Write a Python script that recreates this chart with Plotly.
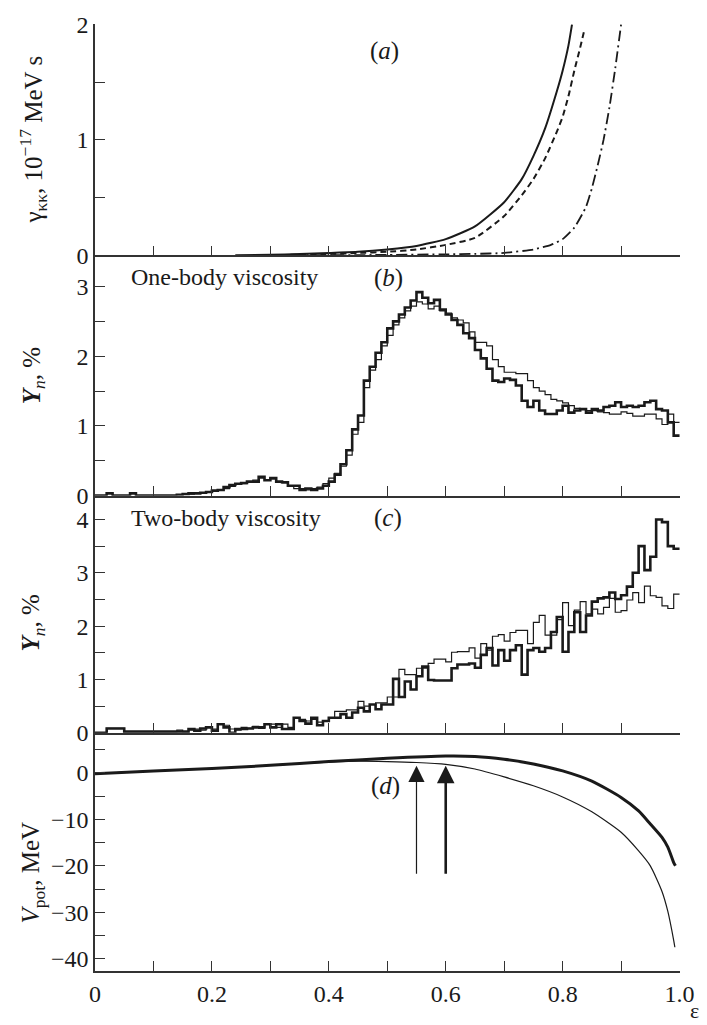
import plotly.graph_objects as go

# ---------------- data ----------------
# panel (a): friction coefficient curves
a_solid_x = [0.24, 0.30, 0.35, 0.40, 0.45, 0.50, 0.55, 0.60, 0.65, 0.70, 0.73, 0.75, 0.77, 0.79, 0.80, 0.81, 0.816]
a_solid_y = [0.0, 0.005, 0.01, 0.02, 0.03, 0.05, 0.08, 0.14, 0.25, 0.46, 0.66, 0.86, 1.1, 1.42, 1.6, 1.82, 2.0]
a_dash_x = [0.30, 0.35, 0.40, 0.45, 0.50, 0.55, 0.60, 0.65, 0.70, 0.73, 0.75, 0.77, 0.79, 0.80, 0.81, 0.82, 0.83, 0.837]
a_dash_y = [0.0, 0.005, 0.01, 0.02, 0.03, 0.05, 0.09, 0.15, 0.34, 0.52, 0.66, 0.84, 1.07, 1.2, 1.38, 1.6, 1.8, 1.95]
a_dd_x = [0.30, 0.40, 0.50, 0.60, 0.65, 0.70, 0.75, 0.78, 0.80, 0.82, 0.84, 0.85, 0.86, 0.87, 0.88, 0.89, 0.90]
a_dd_y = [0.0, 0.0, 0.003, 0.008, 0.012, 0.02, 0.05, 0.09, 0.14, 0.24, 0.42, 0.58, 0.78, 1.0, 1.28, 1.62, 2.0]

# histogram bin edges (epsilon)
bin_edges = [round(i * 0.01, 2) for i in range(101)]

# panel (b): one-body viscosity yields (%), thick and thin histograms
b_thick = [0, 0, 0.03, 0, 0, 0, 0.03, 0, 0, 0,
           0, 0, 0, 0, 0.01, 0.02, 0.03, 0.03, 0.04, 0.05,
           0.07, 0.08, 0.12, 0.15, 0.17, 0.18, 0.2, 0.2, 0.27, 0.22,
           0.25, 0.2, 0.19, 0.14, 0.14, 0.08, 0.1, 0.08, 0.1, 0.14,
           0.2, 0.3, 0.45, 0.65, 0.95, 1.15, 1.65, 1.85, 2.05, 2.2,
           2.4, 2.5, 2.6, 2.7, 2.8, 2.92, 2.84, 2.76, 2.81, 2.67,
           2.6, 2.52, 2.45, 2.33, 2.26, 2.09, 1.97, 1.82, 1.65, 1.63,
           1.68, 1.66, 1.58, 1.36, 1.27, 1.36, 1.22, 1.17, 1.17, 1.22,
           1.29, 1.19, 1.22, 1.24, 1.19, 1.24, 1.22, 1.27, 1.29, 1.34,
           1.27, 1.29, 1.27, 1.29, 1.34, 1.36, 1.24, 1.22, 1.05, 0.86]
b_thin = [0, 0, 0.03, 0, 0, 0, 0.03, 0, 0, 0,
          0, 0, 0, 0, 0.01, 0.02, 0.02, 0.03, 0.04, 0.05,
          0.06, 0.08, 0.1, 0.13, 0.17, 0.17, 0.19, 0.22, 0.25, 0.22,
          0.24, 0.2, 0.18, 0.13, 0.1, 0.1, 0.08, 0.1, 0.12, 0.17,
          0.25, 0.32, 0.42, 0.58, 0.88, 1.05, 1.55, 1.8, 1.95, 2.15,
          2.3, 2.45, 2.55, 2.65, 2.72, 2.78, 2.75, 2.68, 2.72, 2.65,
          2.62, 2.55, 2.52, 2.48, 2.35, 2.2, 2.2, 2.15, 1.95, 1.85,
          1.77, 1.77, 1.75, 1.75, 1.65, 1.55, 1.5, 1.45, 1.38, 1.36,
          1.33, 1.29, 1.25, 1.24, 1.22, 1.22, 1.2, 1.19, 1.17, 1.17,
          1.2, 1.18, 1.14, 1.14, 1.17, 1.17, 1.1, 1.02, 1.17, 1.05]

# panel (c): two-body viscosity yields (%)
c_thick = [0, 0, 0.08, 0.08, 0.08, 0.02, 0.02, 0.02, 0.02, 0.02,
           0.02, 0.02, 0.02, 0.02, 0.02, 0.02, 0.07, 0.04, 0.08, 0.1,
           0.04, 0.16, 0.1, 0.0, 0.07, 0.07, 0.08, 0.1, 0.1, 0.16,
           0.1, 0.16, 0.07, 0.07, 0.28, 0.22, 0.17, 0.28, 0.14, 0.22,
           0.28, 0.28, 0.35, 0.28, 0.38, 0.47, 0.4, 0.53, 0.44, 0.53,
           0.53, 1.01, 0.67, 0.96, 0.81, 1.06, 1.24, 0.99, 0.98, 0.98,
           0.98, 1.21, 1.28, 1.28, 1.3, 1.22, 1.46, 1.59, 1.26, 1.55,
           1.35, 1.55, 1.64, 1.09, 1.55, 1.59, 1.52, 1.59, 1.89, 2.17,
           1.52, 1.89, 2.26, 1.89, 2.2, 2.46, 2.52, 2.54, 2.63, 2.51,
           2.58, 2.74, 3.0, 3.5, 3.05, 3.3, 4.0, 3.95, 3.5, 3.45]
c_thin = [0, 0, 0.08, 0.08, 0.08, 0.02, 0.02, 0.02, 0.02, 0.02,
          0.02, 0.02, 0.02, 0.02, 0.05, 0.02, 0.05, 0.07, 0.05, 0.1,
          0.07, 0.16, 0.14, 0.07, 0.05, 0.1, 0.08, 0.12, 0.08, 0.16,
          0.16, 0.1, 0.16, 0.1, 0.28, 0.25, 0.22, 0.25, 0.2, 0.22,
          0.28, 0.4, 0.4, 0.43, 0.43, 0.59, 0.5, 0.53, 0.56, 0.56,
          0.67, 0.67, 1.19, 1.09, 1.09, 1.21, 1.21, 1.3, 1.38, 1.38,
          1.33, 1.51, 1.52, 1.52, 1.59, 1.4, 1.67, 1.55, 1.81, 1.84,
          1.72, 1.88, 1.92, 1.92, 1.67, 2.07, 2.2, 1.83, 1.83, 2.12,
          2.44, 2.01, 2.3, 2.46, 2.23, 2.32, 2.23, 2.35, 2.52, 2.26,
          2.29, 2.49, 2.63, 2.44, 2.75, 2.57, 2.54, 2.38, 2.33, 2.6]

# panel (d): potential energy (MeV)
d_thick_x = [0.0, 0.1, 0.2, 0.3, 0.4, 0.5, 0.6, 0.65, 0.7, 0.75, 0.8, 0.85, 0.9, 0.93, 0.95, 0.97, 0.98, 0.99, 0.993]
d_thick_y = [-0.2, 0.4, 0.9, 1.6, 2.4, 3.1, 3.6, 3.5, 2.9, 1.9, 0.4, -1.8, -5.3, -8.2, -11.0, -13.9, -16.0, -19.3, -20.0]
d_thin_x = [0.0, 0.1, 0.2, 0.3, 0.4, 0.45, 0.5, 0.55, 0.6, 0.65, 0.7, 0.75, 0.8, 0.85, 0.9, 0.93, 0.95, 0.97, 0.98, 0.99, 0.992]
d_thin_y = [-0.2, 0.4, 0.9, 1.6, 2.3, 2.5, 2.4, 2.2, 1.8, 0.8, -0.9, -2.8, -5.2, -8.4, -12.8, -16.8, -20.0, -25.5, -29.8, -36.0, -37.5]

# barrier-top markers (arrows)
arrow_x = [0.55, 0.60]
arrow_width = [1.2, 2.6]

# tick labels
x_tickvals = [round(i * 0.1, 1) for i in range(11)]
x_ticktext = ["0", "", "0.2", "", "0.4", "", "0.6", "", "0.8", "", "1.0"]

# ---------------- figure ----------------
FONT = "Liberation Serif"
INK = "#1a1a1a"
fig = go.Figure()

def hist_xy(vals):
    return bin_edges, list(vals) + [vals[-1]]

# (a)
fig.add_trace(go.Scatter(x=a_solid_x, y=a_solid_y, mode="lines", line=dict(color=INK, width=2, shape="spline", smoothing=0.5), xaxis="x", yaxis="y"))
fig.add_trace(go.Scatter(x=a_dash_x, y=a_dash_y, mode="lines", line=dict(color=INK, width=2, dash="6px,4px", shape="spline", smoothing=0.5), xaxis="x", yaxis="y"))
fig.add_trace(go.Scatter(x=a_dd_x, y=a_dd_y, mode="lines", line=dict(color=INK, width=1.8, dash="11px,4px,2px,4px", shape="spline", smoothing=0.5), xaxis="x", yaxis="y"))

# (b)
for vals, w in ((b_thin, 1.2), (b_thick, 2.6)):
    hx, hy = hist_xy(vals)
    fig.add_trace(go.Scatter(x=hx, y=hy, mode="lines", line=dict(color=INK, width=w, shape="hv"), xaxis="x2", yaxis="y2"))
# (c)
for vals, w in ((c_thin, 1.2), (c_thick, 2.6)):
    hx, hy = hist_xy(vals)
    fig.add_trace(go.Scatter(x=hx, y=hy, mode="lines", line=dict(color=INK, width=w, shape="hv"), xaxis="x3", yaxis="y3"))
# (d)
fig.add_trace(go.Scatter(x=d_thin_x, y=d_thin_y, mode="lines", line=dict(color=INK, width=1.2, shape="spline", smoothing=0.6), xaxis="x4", yaxis="y4"))
fig.add_trace(go.Scatter(x=d_thick_x, y=d_thick_y, mode="lines", line=dict(color=INK, width=3, shape="spline", smoothing=0.6), xaxis="x4", yaxis="y4"))

# domains (paper fractions)
doms = [[0.7558, 1.0], [0.5021, 0.7558], [0.2516, 0.5021], [0.0, 0.2516]]
yranges = [[0, 2.005], [0, 3.45], [0, 4.45], [-42.6, 8.6]]
ytickvals = [
    [0, 0.5, 1, 1.5, 2],
    [0, 0.5, 1, 1.5, 2, 2.5, 3],
    [0, 0.5, 1, 1.5, 2, 2.5, 3, 3.5, 4],
    [-40, -35, -30, -25, -20, -15, -10, -5, 0, 5],
]
yticktext = [
    ["0", "", "1", "", "2"],
    ["0", "", "1", "", "2", "", "3"],
    ["0", "", "1", "", "2", "", "3", "", "4"],
    ["\u221240", "", "\u221230", "", "\u221220", "", "\u221210", "", "0", ""],
]

axis_common = dict(showline=True, linecolor="#333", linewidth=1.5, ticks="inside", ticklen=10,
                   tickwidth=1.2, tickcolor="#333", showgrid=False, zeroline=False,
                   tickfont=dict(family=FONT, size=24, color=INK))
layout = {}
for i in range(4):
    sx = "" if i == 0 else str(i + 1)
    layout["xaxis" + sx] = dict(axis_common, domain=[0, 1], anchor="y" + sx, range=[0, 1.0008],
                                tickvals=x_tickvals,
                                ticktext=x_ticktext if i == 3 else [""] * 11,
                                showticklabels=(i == 3))
    layout["yaxis" + sx] = dict(axis_common, domain=doms[i], anchor="x" + sx, range=yranges[i],
                                tickvals=ytickvals[i], ticktext=yticktext[i])

fig.update_layout(**layout)

ann = []
def txt(text, x, y, xr, yr, xanchor="center", size=25, angle=0, yanchor="middle"):
    ann.append(dict(text=text, x=x, y=y, xref=xr, yref=yr, showarrow=False, xanchor=xanchor,
                    yanchor=yanchor, textangle=angle, font=dict(family=FONT, size=size, color=INK)))

txt("(<i>a</i>)", 0.495, 1.77, "x", "y")
txt("One-body viscosity", 0.058, 3.14, "x2", "y2", xanchor="left", size=24)
txt("(<i>b</i>)", 0.502, 3.12, "x2", "y2")
txt("Two-body viscosity", 0.058, 4.02, "x3", "y3", xanchor="left", size=24)
txt("(<i>c</i>)", 0.502, 4.02, "x3", "y3")
txt("(<i>d</i>)", 0.497, -2.9, "x4", "y4")

# axis titles (rotated)
tx = -0.106
txt("\u03b3<sub>\u03ba\u03ba</sub>, 10<sup>\u221217</sup> MeV s", tx, 0.8779, "paper", "paper", angle=-90, size=25)
txt("<b><i>Y</i></b><sub><i>n</i></sub>, %", tx, 0.629, "paper", "paper", angle=-90, size=25)
txt("<b><i>Y</i></b><sub><i>n</i></sub>, %", tx, 0.368, "paper", "paper", angle=-90, size=25)
txt("<i>V</i><sub>pot</sub>, MeV", tx, 0.104, "paper", "paper", angle=-90, size=25)
txt("\u03b5", 1.024, -0.0566, "paper", "paper", size=22, yanchor="bottom")

for xa, w in zip(arrow_x, arrow_width):
    ann.append(dict(x=xa, y=1.5, ax=xa, ay=-22, xref="x4", yref="y4", axref="x4", ayref="y4",
                    text="", showarrow=True, arrowhead=2, arrowsize=3.0 / w + 0.2, arrowwidth=w,
                    arrowcolor=INK, standoff=0))

fig.update_layout(annotations=ann, width=707, height=1025,
                  margin=dict(l=95, r=20, t=17, b=54),
                  paper_bgcolor="white", plot_bgcolor="white", showlegend=False)

fig.write_html("out.html")
